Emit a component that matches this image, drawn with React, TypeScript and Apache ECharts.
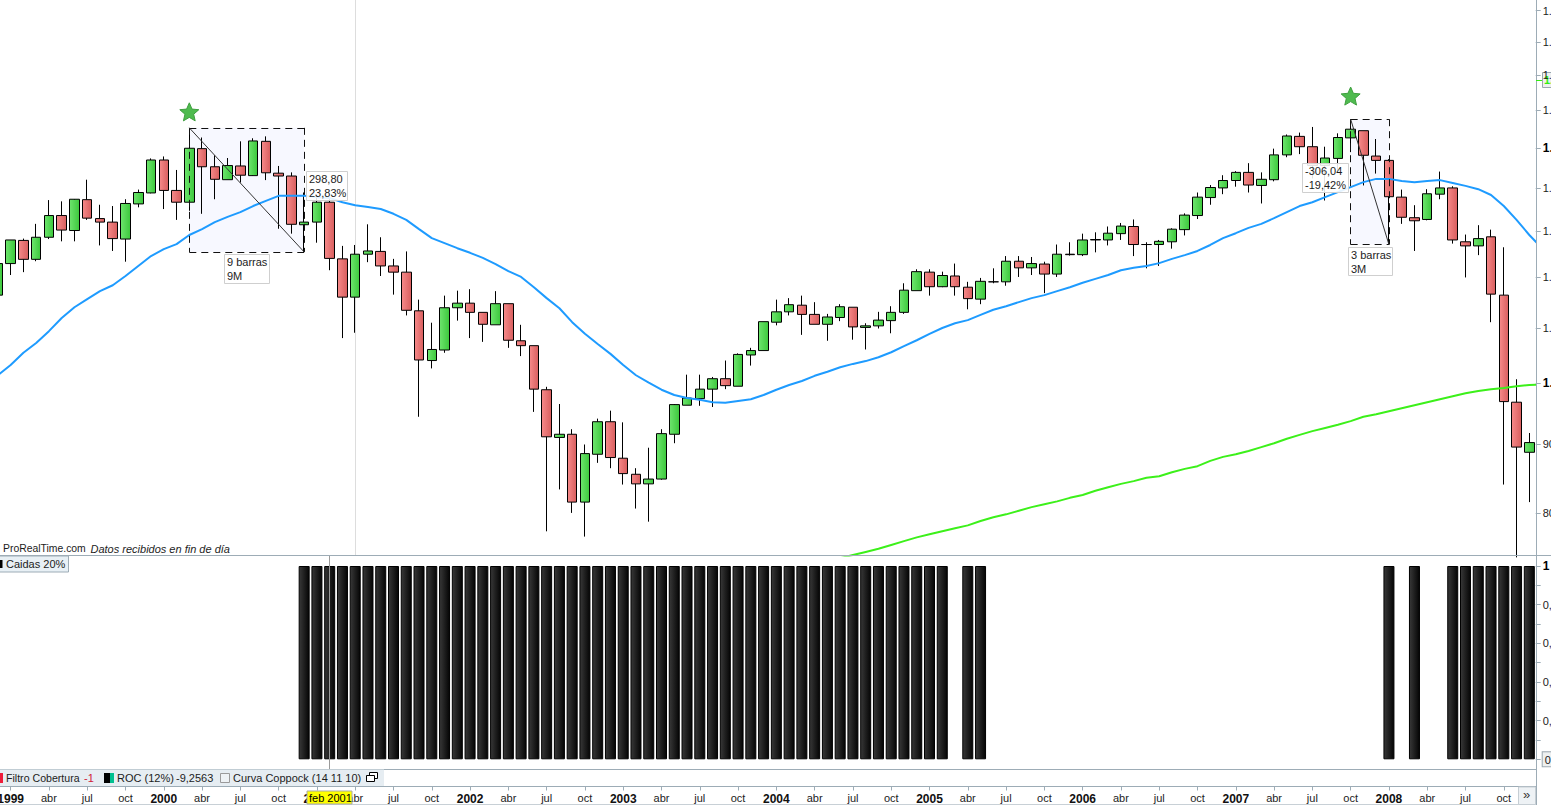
import React, { useEffect, useRef } from "react";
import * as echarts from "echarts";

const monthNames = ["ene", "feb", "mar", "abr", "may", "jun", "jul", "ago", "sep", "oct", "nov", "dic"];
const categories: string[] = ["dic 1998"];
for (let y = 1999; y <= 2008; y++) for (const m of monthNames) categories.push(m + " " + y);
categories.push("ene 2009");

const opens = [
  1164,
  1229,1279,1238,1286,1335,1301,1372,1328,1320,1282,1362,1388,
  1469,1394,1366,1498,1452,1420,1454,1430,1517,1436,1429,1314,
  1320,1366,1239,1160,1249,1255,1224,1211,1133,1040,1059,1139,
  1148,1130,1106,1147,1076,1067,989,911,916,815,885,936,
  879,855,841,848,916,963,974,990,1008,995,1050,1058,
  1111,1131,1144,1126,1107,1120,1140,1101,1104,1114,1130,1173,
  1211,1181,1203,1180,1156,1191,1191,1234,1220,1228,1207,1249,
  1248,1280,1280,1294,1310,1270,1270,1276,1303,1335,1377,1400,
  1418,1438,1406,1420,1482,1530,1503,1455,1473,1526,1545,1479,
  1468,1378,1330,1326,1385,1400,1276,1267,1287,1164,968,888,
];
const highs = [
  1245,
  1280,1283,1316,1371,1368,1372,1420,1360,1357,1373,1396,1473,
  1478,1444,1552,1527,1481,1474,1517,1525,1530,1454,1438,1389,
  1383,1376,1267,1269,1315,1286,1239,1255,1155,1110,1163,1173,
  1176,1130,1172,1147,1106,1067,994,965,924,900,941,954,
  935,864,895,924,965,1015,1015,1011,1040,1053,1063,1112,
  1155,1158,1163,1150,1127,1146,1140,1109,1131,1142,1188,1217,
  1217,1212,1229,1191,1199,1219,1245,1245,1243,1233,1270,1275,
  1294,1297,1310,1318,1326,1275,1280,1306,1340,1389,1407,1431,
  1441,1461,1438,1498,1535,1540,1555,1503,1538,1576,1545,1523,
  1471,1396,1359,1397,1440,1404,1292,1313,1303,1264,1007,918,
];
const lows = [
  1137,
  1205,1211,1234,1282,1277,1277,1325,1268,1256,1233,1354,1387,
  1350,1325,1346,1339,1373,1420,1413,1431,1419,1305,1294,1254,
  1274,1215,1081,1091,1232,1203,1165,1124,944,1026,1054,1114,
  1081,1074,1106,1063,1048,952,775,833,800,768,872,864,
  840,806,788,847,902,963,962,960,990,995,1031,1058,
  1105,1124,1087,1107,1076,1113,1078,1060,1099,1090,1127,1173,
  1163,1180,1163,1136,1146,1188,1183,1201,1205,1168,1201,1246,
  1245,1253,1268,1280,1245,1219,1224,1261,1290,1327,1360,1385,
  1403,1389,1363,1416,1476,1484,1423,1370,1439,1489,1406,1435,
  1270,1316,1256,1324,1373,1272,1200,1247,1111,840,741,815,
];
const closes = [
  1229,
  1280,1238,1286,1335,1302,1373,1329,1320,1283,1363,1389,1469,
  1394,1366,1499,1452,1421,1455,1431,1518,1437,1429,1315,1320,
  1366,1240,1160,1249,1256,1224,1211,1134,1041,1060,1139,1148,
  1130,1107,1147,1077,1067,990,912,916,815,886,936,880,
  856,841,848,917,964,975,990,1008,996,1051,1058,1112,
  1131,1145,1126,1107,1121,1141,1102,1104,1115,1130,1174,1212,
  1181,1204,1181,1157,1192,1191,1234,1220,1229,1207,1249,1248,
  1280,1281,1295,1311,1270,1270,1277,1304,1336,1378,1401,1418,
  1438,1407,1421,1482,1531,1503,1455,1474,1527,1549,1481,1468,
  1379,1331,1323,1386,1400,1280,1267,1283,1166,969,896,903,
];
const blueLine = [
  1014,1032,1054,1072,1094,1119,1140,1156,1172,1184,1203,1224,1245,
  1260,1271,1291,1304,1320,1332,1343,1357,1369,1381,1381,1381,
  1378,1376,1366,1359,1355,1350,1339,1325,1304,1284,1273,1262,
  1252,1241,1228,1213,1201,1180,1158,1138,1111,1089,1070,1052,
  1032,1014,1001,989,980,975,972,968,967,970,973,980,
  989,997,1004,1013,1020,1028,1034,1039,1046,1055,1066,1077,
  1089,1100,1109,1115,1125,1135,1142,1150,1158,1164,1172,1180,
  1189,1197,1205,1215,1220,1224,1230,1239,1247,1256,1269,1284,
  1295,1307,1316,1329,1343,1357,1366,1378,1390,1402,1414,1422,
  1422,1417,1414,1417,1419,1412,1405,1397,1383,1357,1325,1291,
  1262,
];
const greenLine: (number | null)[] = [
  null,null,null,null,null,null,null,null,null,null,null,null,null,
  null,null,null,null,null,null,null,null,null,null,null,null,
  null,null,null,null,null,null,null,null,null,null,null,null,
  null,null,null,null,null,null,null,null,null,null,null,null,
  null,null,null,null,null,null,null,null,null,null,null,null,
  null,null,null,null,null,740,744,748,752,757,762,767,
  771,775,779,783,789,794,798,803,808,812,816,821,
  825,831,836,841,845,850,852,858,863,867,875,881,
  885,890,896,902,909,915,921,926,931,937,944,948,
  953,958,963,968,973,978,983,987,990,992,995,997,
  998,
];
const caidas = [
  0,
  0,0,0,0,0,0,0,0,0,0,0,0,
  0,0,0,0,0,0,0,0,0,0,0,1,
  1,1,1,1,1,1,1,1,1,1,1,1,
  1,1,1,1,1,1,1,1,1,1,1,1,
  1,1,1,1,1,1,1,1,1,1,1,1,
  1,1,1,1,1,1,1,1,1,1,1,1,
  1,1,0,1,1,0,0,0,0,0,0,0,
  0,0,0,0,0,0,0,0,0,0,0,0,
  0,0,0,0,0,0,0,0,0,0,0,0,
  1,0,1,0,0,1,1,1,1,1,1,1,
];
const priceTicks = [800, 900, 1000, 1100, 1200, 1300, 1400, 1500, 1600, 1700, 1800, 1900];
const boldPrices = [1000, 1500];
const drawdowns = [
  { from: "mar 2000", to: "dic 2000", top: 1552.6, bottom: 1253.8 },
  { from: "oct 2007", to: "ene 2008", top: 1575.9, bottom: 1269.9 },
];
const stars = [
  { at: "mar 2000", value: 1596 },
  { at: "oct 2007", value: 1640 },
];

const FONT = "'Liberation Sans', Arial, sans-serif";
const GRID_LEFT = -8.5;
const BAND = 12.762;
const GRID_W = BAND * 122;
const STAR =
  "path://M50 0 L63.5 31.4 L97.6 34.5 L71.9 57.1 L79.4 90.5 L50 73 L20.6 90.5 L28.1 57.1 L2.4 34.5 L36.5 31.4 Z";
const GREY = "#9dacb6";

const txt = (x: number, y: number, text: string, extra: any = {}) => ({
  type: "text",
  z: 100,
  x,
  y,
  silent: true,
  style: { text, fill: "#1c1c1c", font: `11px ${FONT}`, ...extra },
});
const rect = (x: number, y: number, w: number, h: number, fill: string, stroke = "none", z = 99) => ({
  type: "rect",
  z,
  silent: true,
  shape: { x, y, width: w, height: h },
  style: { fill, stroke, lineWidth: 1 },
});
const hline = (x1: number, y1: number, x2: number, y2: number, stroke = GREY) => ({
  type: "line",
  z: 98,
  silent: true,
  shape: { x1, y1, x2, y2 },
  style: { stroke, lineWidth: 1 },
});
const box = (x: number, y: number, w: number, h: number, a: string, b: string) => [
  rect(x + 0.5, y + 0.5, w, h, "rgba(255,255,255,0.88)", "#cfcfcf"),
  txt(x + 3, y + 2, a),
  txt(x + 3, y + 16, b),
];

const candleFill = (a: string, b: string) =>
  new echarts.graphic.LinearGradient(0, 0, 1, 0, [
    { offset: 0, color: a },
    { offset: 1, color: b },
  ]);

export default function App() {
  const ref = useRef<HTMLDivElement>(null);
  useEffect(() => {
    document.body.style.margin = "0";
    document.body.style.overflow = "hidden";
    const chart = echarts.init(ref.current!, null, { renderer: "svg" });
    const edges: any[] = [];
    const dash = { color: "#111", type: [7, 5], width: 1 };
    const solid = { color: "#333", type: "solid", width: 1 };
    drawdowns.forEach((d) => {
      edges.push([{ coord: [d.from, d.top], lineStyle: dash }, { coord: [d.to, d.top] }]);
      edges.push([{ coord: [d.from, d.bottom], lineStyle: dash }, { coord: [d.to, d.bottom] }]);
      edges.push([{ coord: [d.from, d.top], lineStyle: dash }, { coord: [d.from, d.bottom] }]);
      edges.push([{ coord: [d.to, d.top], lineStyle: dash }, { coord: [d.to, d.bottom] }]);
      edges.push([{ coord: [d.from, d.top], lineStyle: solid }, { coord: [d.to, d.bottom] }]);
    });
    const isQuarter = (i: number, v: string) => /^(ene|abr|jul|oct) /.test(v) && v !== "ene 2009";
    const graphicEls: any[] = [
      // the price lines run on past the scale column: hide that stretch
      rect(1536.5, 0, 15, 555, "#ffffff", "none", 50),
      // frames
      hline(0, 555.5, 1551, 555.5),
      hline(1536.5, 0, 1536.5, 805),
      rect(0, 769.5, 384, 16.5, "#e6edf2"),
      hline(0, 769.5, 1536, 769.5),
      hline(0, 786.5, 1536, 786.5),
      hline(0, 804.5, 1536, 804.5, "#c8d0d6"),
      hline(100.5, 770, 100.5, 786),
      hline(216.5, 770, 216.5, 786),
      hline(363.5, 770, 363.5, 786),
      hline(383.5, 770, 383.5, 786),
      hline(329.5, 556, 329.5, 769, "#9a9a9a"),
      // legend row
      rect(0, 773, 3, 10, "#ee1c3a"),
      txt(6, 772, "Filtro Cobertura", { font: `10.6px ${FONT}` }),
      txt(84, 772, "-1", { fill: "#d0203a" }),
      rect(104, 773, 6, 10, "#000"),
      rect(110, 773, 4, 10, "#00c090"),
      txt(117, 772, "ROC (12%)"),
      txt(176, 772, "-9,2563"),
      rect(220.5, 773.5, 9, 9, "#eef2f5", "#9a9a9a"),
      txt(233, 772, "Curva Coppock (14 11 10)"),
      rect(369.5, 772.5, 8, 6, "#fff", "#000"),
      rect(366.5, 775.5, 8, 6, "#fff", "#000"),
      // sub-panel legend
      rect(-1, 556, 69.5, 16, "#e8f0f5", GREY),
      rect(0, 560, 2.5, 8, "#000"),
      txt(6, 558, "Caidas 20%"),
      // source
      txt(3, 543.5, "ProRealTime.com", { font: `10.4px ${FONT}` }),
      txt(90.5, 543.5, "Datos recibidos en fin de día", { font: `italic 11px ${FONT}` }),
      // annotation boxes
      ...box(306, 171, 41, 29, "298,80", "23,83%"),
      ...box(224, 254, 45, 29, "9 barras", "9M"),
      ...box(1302, 163, 46, 29, "-306,04", "-19,42%"),
      ...box(1348, 247, 44, 28, "3 barras", "3M"),
      // current value tag
      hline(1536, 80.5, 1542, 80.5, "#33ee11"),
      rect(1542.5, 72.5, 10, 15, "#eef0f0", "#9aa7af"),
      txt(1544, 74, "1.686", { fill: "#33ee11", font: `bold 11px ${FONT}` }),
      // crosshair date
      rect(307, 791, 45, 13, "#ffff00", "#aaa"),
      txt(309, 792, "feb 2001", { fill: "#000" }),
      // scroll button
      rect(1518.5, 787, 17, 17.5, "#eef2f5", "#c6ced4"),
      txt(1523, 788, "»", { font: `13px ${FONT}`, fill: "#333" }),
    ];
    chart.setOption({
      animation: false,
      backgroundColor: "#fff",
      textStyle: { fontFamily: FONT },
      tooltip: { show: false },
      axisPointer: { show: false },
      grid: [
        { left: GRID_LEFT, width: GRID_W, top: 0, height: 555.5, outerBoundsMode: "none" },
        { left: GRID_LEFT, width: GRID_W, top: 566, height: 193.3, outerBoundsMode: "none" },
        { left: GRID_LEFT, width: GRID_W, top: 785.5, height: 1, outerBoundsMode: "none" },
      ],
      xAxis: [
        { type: "category", gridIndex: 0, data: categories, show: false },
        { type: "category", gridIndex: 1, data: categories, show: false },
        {
          type: "category",
          gridIndex: 2,
          data: categories,
          axisLine: { show: false },
          axisTick: {
            show: true,
            alignWithLabel: true,
            length: 4,
            interval: isQuarter,
            lineStyle: { color: GREY },
          },
          axisLabel: {
            interval: isQuarter,
            margin: 6,
            fontSize: 11,
            color: "#1c1c1c",
            hideOverlap: false,
            formatter: (v: string) => {
              const [m, y] = v.split(" ");
              return m === "ene" ? `{y|${y}}` : m;
            },
            rich: { y: { fontWeight: "bold", fontSize: 12, color: "#111" } },
          },
        },
      ],
      yAxis: [
        {
          type: "log",
          gridIndex: 0,
          position: "right",
          offset: -BAND,
          z: 200,
          min: 743.4,
          max: 1935,
          splitLine: { show: false },
          minorTick: { show: false },
          axisLine: { show: false },
          axisTick: {
            show: true,
            length: 5,
            lineStyle: { color: GREY },
            customValues: priceTicks,
          },
          axisLabel: {
            show: true,
            margin: 7,
            fontSize: 11,
            color: "#1c1c1c",
            align: "left",
            customValues: priceTicks,
            formatter: (v: number) => {
              const r = Math.round(v);
              const s = r >= 1000 ? `${Math.floor(r / 1000)}.${String(r % 1000).padStart(3, "0")}` : String(r);
              return boldPrices.includes(r) ? `{b|${s}}` : s;
            },
            rich: { b: { fontWeight: "bold", fontSize: 12, color: "#000" } },
          },
        },
        {
          type: "value",
          gridIndex: 1,
          position: "right",
          offset: -BAND,
          min: 0,
          max: 1,
          interval: 0.1,
          splitLine: { show: false },
          axisLine: { show: false },
          axisTick: { show: true, length: 5, lineStyle: { color: GREY } },
          axisLabel: {
            show: true,
            margin: 7,
            fontSize: 11,
            color: "#1c1c1c",
            align: "left",
            showMinLabel: true,
            showMaxLabel: true,
            formatter: (v: number) => {
              const t = Math.round(v * 10);
              if (t === 10) return "{b|1}";
              if (t === 0) return "{z|0}";
              return t % 2 === 0 ? `0,${t}` : "";
            },
            rich: {
              b: { fontWeight: "bold", fontSize: 12, color: "#000" },
              z: {
                fontSize: 11,
                color: "#1c1c1c",
                borderColor: "#9aa7af",
                borderWidth: 1,
                backgroundColor: "#eef0f0",
                padding: [2, 2, 1, 2],
              },
            },
          },
        },
        { type: "value", gridIndex: 2, show: false, min: 0, max: 1 },
      ],
      series: [
        {
          name: "zona",
          type: "line",
          xAxisIndex: 0,
          yAxisIndex: 0,
          data: [],
          silent: true,
          markArea: {
            silent: true,
            z: 1,
            itemStyle: { color: "#f7f8ff" },
            label: { show: false },
            data: drawdowns.map((d) => [
              { coord: [d.from, d.top] },
              { coord: [d.to, d.bottom] },
            ]),
          },
          markLine: {
            silent: true,
            z: 1,
            symbol: "none",
            label: { show: false },
            lineStyle: { color: "#dddddd", type: "solid", width: 1 },
            data: [{ xAxis: "abr 2001" }],
          },
        },
        {
          name: "S&P 500",
          type: "candlestick",
          xAxisIndex: 0,
          yAxisIndex: 0,
          z: 2,
          barWidth: 10,
          data: opens.map((o, i) => [o, closes[i], lows[i], highs[i]]),
          itemStyle: {
            color: candleFill("#6ee66e", "#3cc83c"),
            color0: candleFill("#f68a8a", "#d85e5e"),
            borderColor: "#000",
            borderColor0: "#000",
            borderWidth: 1,
          },
        },
        {
          name: "Media azul",
          type: "line",
          xAxisIndex: 0,
          yAxisIndex: 0,
          z: 3,
          data: blueLine,
          symbol: "none",
          lineStyle: { color: "#1e9bff", width: 2 },
        },
        {
          name: "Media verde",
          type: "line",
          xAxisIndex: 0,
          yAxisIndex: 0,
          z: 3,
          data: greenLine,
          symbol: "none",
          lineStyle: { color: "#3cf01a", width: 2 },
        },
        {
          name: "marcas",
          type: "line",
          xAxisIndex: 0,
          yAxisIndex: 0,
          data: [],
          silent: true,
          markLine: {
            silent: true,
            z: 5,
            symbol: "none",
            label: { show: false },
            data: edges,
          },
          markPoint: {
            silent: true,
            z: 6,
            symbol: STAR,
            symbolSize: 19,
            symbolKeepAspect: true,
            label: { show: false },
            itemStyle: { color: "#4fbb4f", borderColor: "#3f9f3f", borderWidth: 1 },
            data: stars.map((s) => ({ coord: [s.at, s.value] })),
          },
        },
        {
          name: "Caidas 20%",
          type: "bar",
          xAxisIndex: 1,
          yAxisIndex: 1,
          barWidth: 11,
          data: caidas.map((v) => (v === 1 ? 1 : "-")),
          itemStyle: {
            color: candleFill("#383838", "#050505"),
            borderColor: "#000",
            borderWidth: 1,
          },
        },
        {
          name: "eje",
          type: "line",
          xAxisIndex: 2,
          yAxisIndex: 2,
          data: [],
        },
      ],
      graphic: { elements: graphicEls },
    });
    return () => chart.dispose();
  }, []);
  return <div ref={ref} style={{ width: 1551, height: 805 }} />;
}
